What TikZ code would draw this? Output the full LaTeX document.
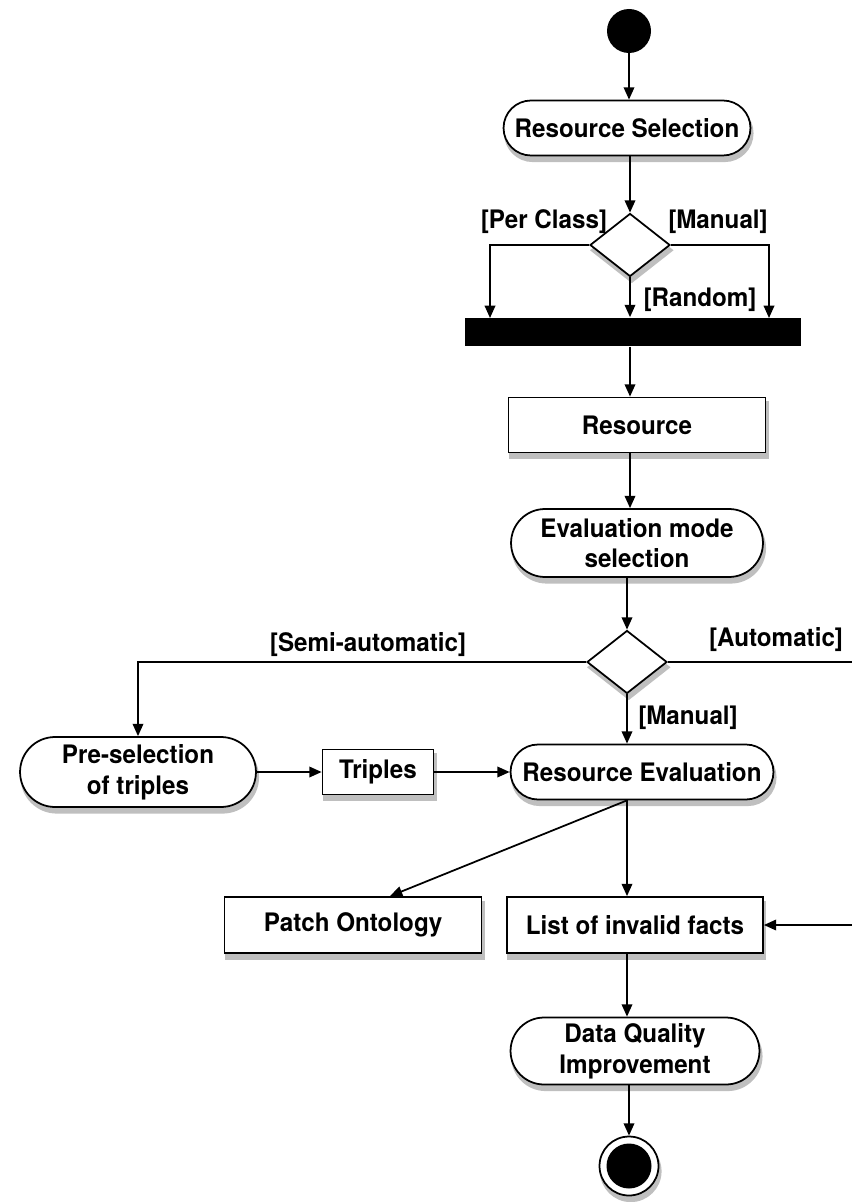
\documentclass[tikz,border=0pt]{standalone}
\usepackage{fontspec}
\setmainfont{TeX Gyre Heros}[FakeStretch=0.95]
\usetikzlibrary{arrows.meta, shapes.geometric, shapes.misc, calc}

\begin{document}
\begin{tikzpicture}[x=0.02cm, y=0.02cm,
    every node/.style={font=\fontsize{14.5}{17.5}\selectfont\bfseries},
    shadowed/.style={preaction={draw=black!25, fill=black!25, line width=1.5pt, transform canvas={xshift=1pt, yshift=-3pt}}},
    activity/.style={rounded rectangle, draw, line width=1pt, fill=white, shadowed, align=center, inner sep=2pt},
    objbox/.style={rectangle, draw, line width=1pt, fill=white, shadowed, align=center},
    decision/.style={diamond, draw, line width=1pt, fill=white, shadowed, inner sep=0pt, minimum width=1.6cm, minimum height=1.26cm},
    guard/.style={inner sep=1pt},
    arr/.style={line width=1pt, -{Triangle[length=7pt, width=6pt]}}]
    \useasboundingbox (0,0) rectangle (851,-1202);

    \node[circle, fill=black, minimum size=0.88cm, inner sep=0pt] (start) at (629,-31) {};
    \node[activity, minimum width=5.08cm, minimum height=1.1cm] (rsel) at (627,-128) {Resource Selection};
    \node[decision] (dec1) at (630,-245) {};
    \node[rectangle, fill=black, minimum width=6.74cm, minimum height=0.58cm, inner sep=0pt] (bar) at (633,-332) {};
    \coordinate (barL) at (490,-318);
    \coordinate (barR) at (769,-318);
    \node[objbox, minimum width=5.14cm, minimum height=1.1cm] (res) at (637,-425) {Resource};
    \node[activity, minimum width=5.18cm, minimum height=1.36cm] (emode) at (637,-543) {Evaluation mode\\selection};
    \node[decision] (dec2) at (627,-662) {};
    \node[activity, minimum width=4.86cm, minimum height=1.4cm] (presel) at (138,-772) {Pre-selection\\of triples};
    \node[objbox, minimum width=2.22cm, minimum height=0.9cm] (triples) at (378,-772) {Triples};
    \node[activity, minimum width=5.4cm, minimum height=1.1cm] (reseval) at (642,-772) {Resource Evaluation};
    \node[objbox, minimum width=5.14cm, minimum height=1.12cm] (patch) at (353,-925) {Patch Ontology};
    \node[objbox, minimum width=5.12cm, minimum height=1.12cm] (list) at (635,-925) {List of invalid facts};
    \node[activity, minimum width=5.12cm, minimum height=1.34cm] (dq) at (635,-1051) {Data Quality\\Improvement};
    \node[circle, draw, line width=1pt, fill=white, shadowed, minimum size=1.18cm, inner sep=0pt,
          path picture={\fill[black] (path picture bounding box.center) circle (0.45cm);}] (stop) at (629,-1166) {};
    \coordinate (auto) at (900,-800);

    % guards
    \node[guard] (gpc) at (544,-222) {[Per Class]};
    \node[guard] (gman) at (718,-222) {[Manual]};
    \node[guard] (grand) at (700,-300) {[Random]};
    \node[guard] (gsemi) at (368,-645) {[Semi-automatic]};
    \node[guard] (gauto) at (776,-640) {[Automatic]};
    \node[guard] (gman2) at (688,-718) {[Manual]};

    \draw[arr] (start) -- (rsel.north -| start);
    \draw[arr] (rsel.south -| dec1) -- (dec1.north);
    \draw[arr] (dec1.west) -| (barL);
    \draw[arr] (dec1.south) -- (dec1.south |- bar.north);
    \draw[arr] (dec1.east) -| (barR);
    \draw[arr] (bar.south -| dec1) -- (res.north -| dec1);
    \draw[arr] (res.south -| dec1) -- (emode.north -| dec1);
    \draw[arr] (emode.south -| dec2) -- (dec2.north);
    \draw[arr] (dec2.west) -| (presel.north);
    \draw[arr] (dec2.south) -- (reseval.north -| dec2);
    \draw[arr] (dec2.east) -| (auto) |- (list.east);
    \draw[arr] (presel) -- (triples);
    \draw[arr] (triples) -- (reseval);
    \draw[arr] (reseval.south -| dec2) -- ($(patch.north)+(37,0)$);
    \draw[arr] (reseval.south -| dec2) -- (list.north -| dec2);
    \draw[arr] (list.south -| dec2) -- (dq.north -| dec2);
    \draw[arr] (dq.south -| stop) -- (stop);
\end{tikzpicture}
\end{document}
